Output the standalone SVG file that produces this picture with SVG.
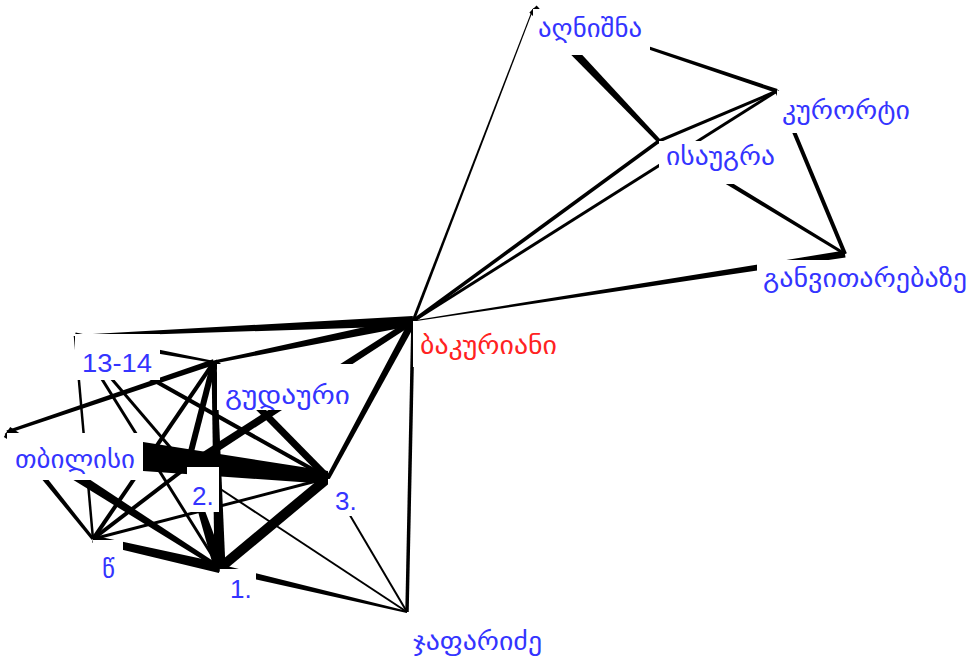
<svg xmlns="http://www.w3.org/2000/svg" width="971" height="657" viewBox="0 0 971 657">
<style>
.e{fill:#000}
.l{stroke:#000;fill:none}
.bg{fill:#fff}
.t{font-family:"DejaVu Sans",sans-serif;font-size:25px;fill:#3434ff}
.n{font-family:"Liberation Sans","DejaVu Sans",sans-serif;font-size:26px;fill:#3434ff}
.r{fill:#ff2222}
</style>
<rect width="971" height="657" fill="#fff"/>
<g id="edges">
<polygon class="e" points="414.4,321.5 533.5,9.2 532.5,8.8 411.6,320.5"/>
<polygon class="e" points="529.4,12.5 657.6,142.4 660.4,139.6 536.6,5.6"/>
<polygon class="e" points="532.7,10 776.4,92.9 777.6,89.1 533.3,8.05"/>
<line class="l" x1="777" y1="91" x2="659" y2="141" stroke-width="3"/>
<line class="l" x1="777" y1="91" x2="413" y2="321" stroke-width="3"/>
<line class="l" x1="659" y1="141" x2="413" y2="321" stroke-width="3.5"/>
<polygon class="e" points="657.7,143.1 844.2,255.3 845.8,252.7 660.3,138.9"/>
<line class="l" x1="777" y1="91" x2="845" y2="254" stroke-width="4"/>
<polygon class="e" points="413.1,321.5 845.5,257.5 844.5,250.5 412.9,320.5"/>
<polygon class="e" points="412.8,316 75,335 75,337 413.2,326"/>
<polygon class="e" points="412.1,316.6 213.7,360.5 214.3,363.5 413.9,325.4"/>
<polygon class="e" points="411.4,318.5 184.8,463.6 189.2,470.4 414.6,323.5"/>
<polygon class="e" points="409.9,319.3 326.2,477 329.8,479 416.1,322.7"/>
<line class="l" x1="413" y1="321" x2="407" y2="612" stroke-width="3.5"/>
<polygon class="e" points="7.5,433.4 215,364.8 213,359.2 6.5,430.6"/>
<line class="l" x1="75" y1="336" x2="93" y2="539" stroke-width="2.5"/>
<line class="l" x1="75" y1="336" x2="220" y2="568" stroke-width="3"/>
<line class="l" x1="75" y1="336" x2="187" y2="467" stroke-width="3"/>
<polygon class="e" points="74.4,339.4 213.8,363 214.2,361 75.6,332.6"/>
<line class="l" x1="75" y1="336" x2="328" y2="478" stroke-width="4"/>
<polygon class="e" points="143,442 328,471 328,484 143,471"/>
<polygon class="e" points="4.7,433.9 91.8,539.9 94.2,538.1 9.3,430.1"/>
<polygon class="e" points="3.8,437.1 218.9,569.7 221.1,566.3 10.2,426.9"/>
<polygon class="e" points="92.2,542.4 218.9,572.9 221.1,563.1 93.8,535.6"/>
<line class="l" x1="93" y1="539" x2="214" y2="362" stroke-width="4"/>
<line class="l" x1="93" y1="539" x2="328" y2="478" stroke-width="3"/>
<line class="l" x1="93" y1="539" x2="187" y2="467" stroke-width="4"/>
<line class="l" x1="328" y1="478" x2="220" y2="568" stroke-width="10"/>
<polygon class="e" points="219.2,571.4 406.8,613 407.2,611 220.8,564.6"/>
<line class="l" x1="328" y1="478" x2="407" y2="612" stroke-width="2"/>
<line class="l" x1="187" y1="467" x2="407" y2="612" stroke-width="2"/>
<polygon class="e" points="211.5,362.1 214.5,568.2 225.5,567.8 216.5,361.9"/>
<line class="l" x1="214" y1="362" x2="328" y2="478" stroke-width="7"/>
<line class="l" x1="214" y1="362" x2="187" y2="467" stroke-width="6"/>
<polygon class="e" points="185.6,467.5 214.3,569.9 225.7,566.1 188.4,466.5"/>
</g>
<g id="node-aghnishna"><rect class="bg" x="533" y="9" width="117" height="46"/><text class="t" x="538" y="37" textLength="104" lengthAdjust="spacingAndGlyphs">აღნიშნა</text></g>
<g id="node-kurorti"><rect class="bg" x="777" y="91" width="138" height="42"/><text class="t" x="782" y="119" textLength="128" lengthAdjust="spacingAndGlyphs">კურორტი</text></g>
<g id="node-isaugra"><rect class="bg" x="659" y="141" width="122" height="43"/><text class="t" x="666" y="165" textLength="109" lengthAdjust="spacingAndGlyphs">ისაუგრა</text></g>
<g id="node-ganvitarebaze"><rect class="bg" x="757" y="260" width="214" height="40"/><text class="t" x="763" y="287" textLength="204" lengthAdjust="spacingAndGlyphs">განვითარებაზე</text></g>
<g id="node-bakuriani"><rect class="bg" x="413" y="321" width="150" height="46"/><text class="t r" x="420" y="354" textLength="137" lengthAdjust="spacingAndGlyphs">ბაკურიანი</text></g>
<g id="node-japaridze"><rect class="bg" x="407" y="612" width="140" height="45"/><text class="t" x="413" y="650" textLength="129" lengthAdjust="spacingAndGlyphs">ჯაფარიძე</text></g>
<g id="node-gudauri"><rect class="bg" x="217" y="364" width="140" height="46"/><text class="t" x="225" y="404" textLength="125" lengthAdjust="spacingAndGlyphs">გუდაური</text></g>
<g id="node-13-14"><rect class="bg" x="75" y="334" width="85" height="46"/><text class="n" x="82" y="372" font-size="27" textLength="70" lengthAdjust="spacingAndGlyphs">13-14</text></g>
<g id="node-tbilisi"><rect class="bg" x="7" y="433" width="136" height="47"/><text class="t" x="15" y="468" textLength="120" lengthAdjust="spacingAndGlyphs">თბილისი</text></g>
<g id="node-2"><rect class="bg" x="187" y="467" width="32" height="45"/><text class="n" x="192" y="505">2.</text></g>
<g id="node-3"><rect class="bg" x="328" y="479" width="30" height="37"/><text class="n" x="335" y="510">3.</text></g>
<g id="node-1"><rect class="bg" x="220" y="569" width="36" height="34"/><text class="n" x="230" y="598">1.</text></g>
<g id="node-ts"><rect class="bg" x="93" y="540" width="30" height="45"/><text class="t" x="102" y="578">წ</text></g>
</svg>
